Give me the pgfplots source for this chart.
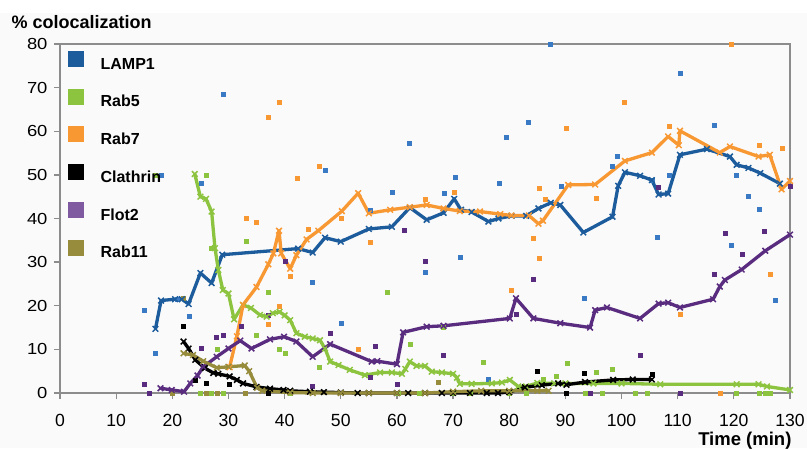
\documentclass[border=0pt]{standalone}
\usepackage{pgfplots}
\pgfplotsset{compat=1.18}
\usepackage{fontspec}
\setmainfont{Liberation Sans}
\definecolor{lampL}{RGB}{28,92,156}
\definecolor{lampS}{RGB}{58,122,196}
\definecolor{rabfive}{RGB}{141,196,63}
\definecolor{rabseven}{RGB}{248,152,51}
\definecolor{flotL}{RGB}{90,44,128}
\definecolor{flotLeg}{RGB}{128,90,160}
\definecolor{rabel}{RGB}{150,140,60}
\definecolor{axgray}{RGB}{140,140,140}
\definecolor{bggray}{RGB}{250,250,250}
\pgfplotsset{
  lineplot/.style={line width=3.3pt, mark=x, mark size=4pt, mark options={line width=1.5pt, solid}, line join=round, forget plot},
  scat/.style={only marks, mark=square*, mark size=2pt},
  legsq/.style={legend image code/.code={\fill[#1] (0pt,-2pt) rectangle (15pt,13pt);}},
}
\begin{document}
\begin{tikzpicture}
\fill[bggray] (-60pt,-55pt) rectangle (747pt,380pt);
\begin{axis}[
  scale only axis, width=730pt, height=349pt,
  xmin=0, xmax=130, ymin=0, ymax=80,
  xtick={0,10,...,130}, ytick={0,10,...,80},
  tick align=outside, xtick pos=bottom, ytick pos=left,
  major tick length=6pt,
  axis line style={axgray, line width=1.3pt},
  tick style={axgray, line width=1.3pt},
  /pgf/number format/assume math mode=true,
  yticklabel={\scalebox{1.15}[1]{\pgfmathprintnumber{\tick}}},
  xticklabel={\scalebox{1.1}[1.1]{\pgfmathprintnumber{\tick}}},
  yticklabel style={font=\fontsize{16}{16}\selectfont, xshift=-3pt},
  xticklabel style={font=\fontsize{16}{16}\selectfont, yshift=-12pt},
  clip=false,
  axis background/.style={fill=bggray},
  legend cell align=left,
  legend style={at={(rel axis cs:0,1)}, anchor=north west, xshift=8pt, yshift=-7pt,
    draw=none, fill=none, inner sep=0pt, row sep=18pt, column sep=17pt,
    font=\fontsize{16}{16}\bfseries\selectfont,
    nodes={inner sep=0pt}},
]
% scatter series (with legend)
\addplot[scat, color=lampS, legsq=lampL] coordinates {(15,18.9)(16.9,9.1)(18.1,50)(20.8,21.6)(23,17.7)(25.1,48.1)(29,68.5)(45,25.3)(47.2,51.1)(50,16)(55.2,42)(59.2,46.1)(62.2,57.2)(65.1,27.8)(68.4,45.8)(70.3,49.4)(71.2,31.2)(76.2,3.1)(78.2,48.1)(79.4,58.6)(83.4,62)(87.3,80)(89.2,47.5)(93.4,21.7)(98.4,52)(99.3,54.3)(105.5,48.8)(106.4,35.7)(108.4,50)(110.4,73.3)(116.5,61.3)(119.5,33.9)(120.5,50)(122.5,45.2)(124.5,42.1)(127.3,21.3)};
\addlegendentry{LAMP1}
\addplot[scat, color=rabfive, legsq=rabfive] coordinates {(16.9,50)(26,50)(27,33.2)(33.1,34.8)(37.1,23)(28,10.1)(35,13.3)(39.1,10.1)(40.1,9.1)(46.1,5.9)(58.2,23)(62.3,11.1)(68.3,15.1)(75.3,7.1)(86.1,3.2)(88.3,3.9)(90.3,6.8)(95.4,4.7)(98.4,5.5)(25,0)(27,0)(29,0)(41,0)(60.3,0)(64,0)(70,0)(73,0)(80,0)(83,0)(93.5,0)(96.5,0)(102.4,0)(104.6,0)(120.5,0)(124.5,0)(125.5,0)(126.4,0)};
\addlegendentry{Rab5}
\addplot[scat, color=rabseven, legsq=rabseven] coordinates {(33.1,40)(35,39.2)(37.1,63.2)(39.1,66.6)(42.3,49.2)(46.2,52)(37.1,15.7)(39.1,20)(41,26.8)(44.2,37.5)(50.1,40)(53.1,10)(55.2,34.6)(65.1,44.5)(70.2,46.1)(80.4,23.6)(84.3,35.4)(85.4,30.8)(85.4,46.9)(86.4,44.5)(90.2,60.7)(95.4,44.7)(100.4,66.6)(108.4,61.2)(110.4,18)(117.5,0)(119.5,80)(124.5,56.7)(126.4,27.3)(128.6,56.2)};
\addlegendentry{Rab7}
\addplot[scat, color=black, legsq=black] coordinates {(22,15.4)(24,2.9)(26,2.2)(30.2,2.1)(37.1,0)(85,4.9)(90.2,0)(93.4,4.6)(105.4,4.4)};
\addlegendentry{Clathrin}
\addplot[scat, color=flotL, legsq=flotLeg] coordinates {(15,2.1)(15.9,0)(25.1,10.3)(27.9,12.7)(29.1,13.3)(32.2,15.4)(37.1,17.9)(40.1,30.1)(45,1.5)(48.2,13.6)(55.2,3.7)(56.2,10.7)(60.1,2.1)(61.3,37.4)(65.1,30.1)(68.3,8.7)(81.3,18.1)(84.3,26)(94.4,0)(103.3,8.7)(106.5,47.2)(110.4,0)(116.5,27.3)(118.4,36.6)(121.5,31.8)(125.4,37)(130,47.5)};
\addlegendentry{Flot2}
\addplot[scat, color=rabel, legsq=rabel] coordinates {(20,0)(22,21.7)(26,0)(28,0)(33,0)(67.3,2.4)};
\addlegendentry{Rab11}
% lines
\addplot[lineplot, color=lampL] coordinates {(17,14.7)(18,21.2)(20.5,21.5)(21.7,21.5)(22.9,20.4)(25,27.5)(27,25.2)(28.9,31.7)(42.4,33.1)(45,32.2)(47.2,35.6)(50,34.7)(55,37.6)(59.1,38.1)(62.3,42.5)(65.3,39.7)(68.3,41.3)(70.2,44.5)(71.4,42)(73.3,41.5)(76.3,39.3)(78.1,40)(80.4,40.6)(83,40.6)(85.2,42.3)(87.4,43.6)(89.1,43.1)(93.2,36.8)(98.4,40.4)(99.4,47.5)(100.6,50.6)(103.3,49.8)(105.4,48.8)(106.6,45.5)(108.3,45.7)(110.4,54.6)(115.2,55.9)(119.3,54.2)(120.5,52.3)(122.6,51.6)(124.7,50.4)(128.2,48.0)};
\addplot[lineplot, color=rabfive] coordinates {(24,50.2)(25,45)(26,44.5)(27,41.6)(27.6,33.2)(28.2,28.2)(29,23.6)(30,22.8)(31,16.9)(32.6,20.2)(34,19.5)(35.6,17.9)(36.8,17.5)(37.9,18.3)(39.1,18.6)(40,17.8)(41,16.7)(42.1,13.7)(43.6,12.9)(45,12.5)(46.3,12.1)(47.2,10.2)(48.1,7.2)(49.6,6.4)(51.6,5.3)(54.3,4.1)(57,4.7)(59.1,4.7)(60.9,4.4)(61.5,5.5)(62.3,7.2)(63.5,6.2)(65,6.2)(66.2,4.9)(68,4.7)(70,4.4)(70.7,3.5)(71.2,2.1)(73.3,2.1)(76.9,2.2)(78.7,2.4)(80.1,3.0)(81.6,1.5)(83,1.5)(85,2.3)(88,2.2)(90,2.2)(95,2.2)(100,2.2)(106.9,2.0)(120.5,2.0)(124.4,2.0)(125.9,1.5)(130,0.7)};
\addplot[lineplot, color=rabseven] coordinates {(30.2,5.9)(31.5,13)(32.6,20.2)(35,24.3)(37.1,29.5)(38,32)(39,37.2)(39.4,32)(41,28.5)(42.1,31.6)(43.9,35.2)(46,37.2)(50.2,41.7)(53.1,45.8)(55,41.2)(58.8,42)(62.3,42.6)(65.3,43.1)(68.3,42.3)(71.2,41.7)(74.8,41.6)(78.4,41.0)(80.4,40.7)(83.5,40.7)(85.2,38.8)(86,39.5)(90.5,47.7)(95.3,47.8)(100.6,53.2)(105.4,55.1)(108.3,58.8)(110.2,56.8)(110.4,60.1)(117.5,55.1)(119.3,56.5)(124.4,54.2)(126.4,54.6)(128.5,46.7)(130,48.6)};
\addplot[lineplot, color=black] coordinates {(22,11.8)(22.9,10.2)(24.1,7.6)(25.8,5.7)(27.3,4.6)(28.2,4.4)(30.2,3.8)(31.5,3.0)(32.6,2.2)(35,1.4)(37.4,1.0)(39.8,0.7)(41,0.5)(44.5,0.3)(47,0.2)(50,0.1)(53,0)(55,0)(60,0)(62,0)(65,0)(68,0)(70,0)(73,0)(76,0)(78,0)(80,0.2)(82.8,1.3)(85.8,1.8)(88.7,2.2)(90.2,1.9)(93.5,2.5)(98.5,3.0)(102,3.1)(105.4,3.1)};
\addplot[lineplot, color=flotL] coordinates {(17.9,1.1)(19.9,0.7)(22.1,0.3)(23.2,2.2)(24.5,4.0)(25.5,6.0)(27.9,8.3)(30,10.2)(32.1,12.0)(34.1,10.2)(37.4,12.3)(39.9,12.9)(42.1,11.8)(45,8.3)(48.1,11.2)(55.5,7.2)(56.5,7.3)(60,6.6)(61.1,13.9)(65.3,15.2)(68.3,15.4)(80.1,17.1)(81.2,21.7)(84.3,17.1)(89.1,16.0)(94.4,15.0)(95.3,19.0)(97.4,19.6)(103.3,17.1)(106.6,20.5)(108.3,20.7)(110.4,19.6)(116.3,21.5)(117.5,24.4)(118.4,25.9)(121.4,28.3)(125.6,32.6)(130,36.3)};
\addplot[lineplot, color=rabel] coordinates {(22,9.1)(23.7,8.7)(25.5,7.3)(27.9,5.8)(30,6.0)(32.9,6.3)(33.7,5.0)(35.1,1.2)(36,0.5)(41,0.1)(45,0)(50,0)(55,0)(60,0)(65,0)(70,0.3)(75,0.5)(80,0.5)(85,0.5)(87,0.5)};
\node[anchor=base west, font=\fontsize{18}{18}\bfseries\selectfont] at (rel axis cs:0,1) [xshift=-52pt, yshift=16pt] {\% colocalization};
\node[anchor=base east, font=\fontsize{18.5}{18.5}\bfseries\selectfont] at (rel axis cs:1,0) [xshift=5pt, yshift=-52pt] {Time (min)};
\end{axis}
\pgfresetboundingbox
\path[use as bounding box] (-60pt,-55pt) rectangle (747pt,393pt);
\end{tikzpicture}
\end{document}
